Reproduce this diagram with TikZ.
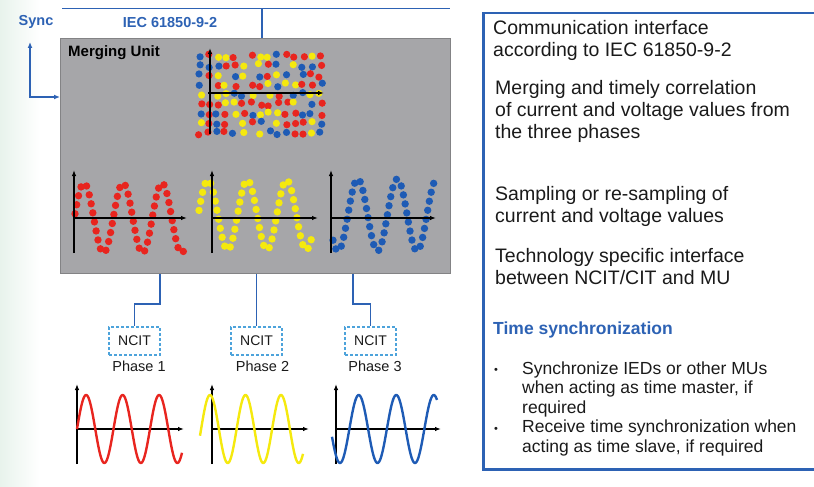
\documentclass[tikz,border=0pt]{standalone}
\usepackage{fontspec}
\setmainfont{Liberation Sans}
\usetikzlibrary{arrows.meta,positioning,calc}
\definecolor{mublue}{HTML}{2D62B4}
\definecolor{mugray}{HTML}{A6A6A9}
\definecolor{mugrayline}{HTML}{838385}
\definecolor{ncitblue}{HTML}{4DA3DB}
\definecolor{phred}{HTML}{E8251F}
\definecolor{phyellow}{HTML}{F5E90E}
\definecolor{phblue}{HTML}{1E5BB5}
\definecolor{darktext}{HTML}{1A1A1A}
\definecolor{mint}{HTML}{E8F3EC}

\begin{document}
\begin{tikzpicture}[x=1pt,y=-1pt,
  wire/.style={mublue, line width=1.6pt},
  axis/.style={-{Latex[length=6pt,width=4.5pt]}, line width=1.2pt, black},
  dotwave/.style={line width=7.4pt, line cap=round, dash pattern=on 0pt off 9.2pt},
  sinewave/.style={line width=2.4pt, line join=round},
  ncitbox/.style={draw=ncitblue, line width=1.2pt, dash pattern=on 3pt off 2pt, minimum width=51pt, minimum height=28pt, inner sep=0pt, font=\fontsize{14}{16}\selectfont, text=darktext},
  phaselabel/.style={font=\fontsize{14.5}{16}\selectfont, text=darktext},
  infotext/.style={anchor=west, align=left, inner sep=0pt, font=\fontsize{19.5}{22}\selectfont, text=darktext},
  bullettext/.style={anchor=west, align=left, inner sep=0pt, font=\fontsize{17.5}{19.5}\selectfont, text=darktext}]
\useasboundingbox (0,0) rectangle (814,487);
\clip (0,0) rectangle (814,487);
\shade[left color=mint, right color=white] (0,0) rectangle (40,487);

% Bus and sync
\node[font=\fontsize{14.5}{16}\selectfont\bfseries, text=mublue] (sync) at (36,22) {Sync};
\node[font=\fontsize{14.5}{16}\selectfont\bfseries, text=mublue] (iec) at (170,23) {IEC 61850-9-2};
\coordinate (busL) at (62,8.5);
\coordinate (busR) at (450,8.5);
\coordinate (busT) at (262,8.5);

% Merging unit
\node[draw=mugrayline, fill=mugray, line width=0.8pt, minimum width=390pt, minimum height=235pt, inner sep=0pt, anchor=north west] (mu) at (60,38) {};
\node[anchor=west, inner sep=0pt, font=\fontsize{15}{17}\selectfont\bfseries] (mulabel) at (68,53) {Merging Unit};
\draw[wire] (busL) -- (busR);
\draw[wire] (busT) -- (busT |- mu.north);
\coordinate (synctop) at (30,42);
\coordinate (synccorner) at (30,97);
\draw[wire, line width=1.5pt, {Latex[length=6pt,width=5pt]}-{Latex[length=6pt,width=5pt]}] (synctop) -- (synccorner) -- (mu.west |- synccorner);

% merged samples
\pgfmathsetseed{11}
\foreach \i in {0,...,14}{
  \foreach \j in {0,...,8}{
    \pgfmathrandominteger{\c}{1}{7}
    \pgfmathsetmacro{\dx}{rand*2}
    \pgfmathsetmacro{\dy}{rand*2}
    \ifcase\c\or\def\dcol{phred}\or\def\dcol{phyellow}\or\def\dcol{phblue}\or\def\dcol{phblue}\or\def\dcol{phred}\or\def\dcol{phyellow}\or\def\dcol{none}\fi
    \ifnum\c<7 \fill[\dcol] (200+\i*8.6+\dx, 56+\j*9.6+\dy) circle (3.6pt); \fi
  }
}
\draw[axis] (210,134) -- (210,48);
\draw[axis] (208,93) -- (324,93);

% sampled phases
\draw[phred, dotwave] plot[domain=75:186, samples=150] (\x, {218-35*cos((\x-84)/39*360)});
\draw[phyellow, dotwave] plot[domain=199:312, samples=150] (\x, {215-35*cos((\x-208)/39.3*360)});
\draw[phblue, dotwave] plot[domain=333:439, samples=150] (\x, {215+36*cos((\x-338)/39.5*360)});
\draw[axis] (74,253) -- (74,170);
\draw[axis] (74,218) -- (187,218);
\draw[axis] (212,253) -- (212,170);
\draw[axis] (212,218) -- (318,218);
\draw[axis] (331,253) -- (331,170);
\draw[axis] (331,218) -- (436,218);

% NCIT boxes
\node[ncitbox] (ncit1) at (134.5,341) {NCIT};
\node[ncitbox] (ncit2) at (256.5,341) {NCIT};
\node[ncitbox] (ncit3) at (370.5,341) {NCIT};
\node[phaselabel, below=2pt of ncit1, xshift=4.5pt] (ph1) {Phase 1};
\node[phaselabel, below=2pt of ncit2, xshift=6pt] (ph2) {Phase 2};
\node[phaselabel, below=2pt of ncit3, xshift=4.5pt] (ph3) {Phase 3};
\draw[wire] ($(mu.south west)+(100,0)$) -- ++(0,30) -| (ncit1.north);
\draw[wire] (ncit2.north |- mu.south) -- (ncit2.north);
\draw[wire] ($(mu.south west)+(293,0)$) -- ++(0,30) -| (ncit3.north);

% Phase signals
\draw[axis] (77,464) -- (77,384);
\draw[axis] (77,429) -- (184,429);
\draw[phred, sinewave] plot[domain=77:182, samples=150] (\x, {429-34*sin((\x-77)/36.5*360)});
\draw[axis] (212,464) -- (212,384);
\draw[axis] (212,429) -- (309,429);
\draw[phyellow, sinewave] plot[domain=200:303, samples=150] (\x, {429-34*cos((\x-210)/35.5*360)});
\draw[axis] (336,464) -- (336,384);
\draw[axis] (336,429) -- (441,429);
\draw[phblue, sinewave] plot[domain=332:437, samples=150] (\x, {429+34*cos((\x-340)/37.5*360)});

% Functions
\node[draw=mublue, line width=2.5pt, minimum width=360pt, minimum height=456pt, inner sep=0pt, anchor=north west] (info) at (482,12) {};
\node[infotext] (fn1) at (493,40) {Communication interface\\according to IEC 61850-9-2};
\node[infotext] (fn2) at (495,111) {Merging and timely correlation\\of current and voltage values from\\the three phases};
\node[infotext] (fn3) at (495,206) {Sampling or re-sampling of\\current and voltage values};
\node[infotext] (fn4) at (495,267) {Technology specific interface\\between NCIT/CIT and MU};
\node[anchor=west, inner sep=0pt, font=\fontsize{17.5}{20}\selectfont\bfseries, text=mublue] (tsync) at (493,330) {Time synchronization};
\node[font=\fontsize{11}{13}\selectfont, text=darktext] (dot1) at (496,371) {\textbullet};
\node[bullettext] (item1) at (522,389) {Synchronize IEDs or other MUs\\when acting as time master, if\\required};
\node[font=\fontsize{11}{13}\selectfont, text=darktext] (dot2) at (496,430) {\textbullet};
\node[bullettext] (item2) at (522,438) {Receive time synchronization when\\acting as time slave, if required};
\end{tikzpicture}
\end{document}
